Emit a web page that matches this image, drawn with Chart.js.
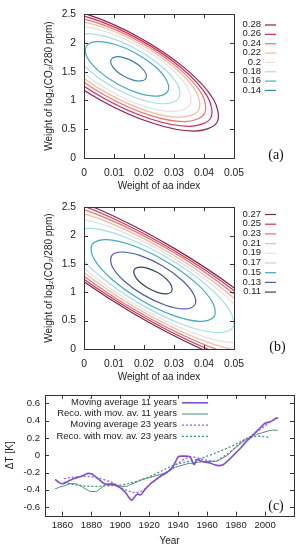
<!DOCTYPE html>
<html><head><meta charset="utf-8">
<script src="https://cdn.jsdelivr.net/npm/chart.js@4.4.1/dist/chart.umd.min.js"></script>
<style>
html,body{margin:0;padding:0;background:#fff;}
body{width:301px;height:550px;position:relative;overflow:hidden;}
canvas{position:absolute;left:0;}
</style></head><body>
<canvas id="ca" width="301" height="192" style="top:0px"></canvas>
<canvas id="cb" width="301" height="190" style="top:193px"></canvas>
<canvas id="cc" width="301" height="166" style="top:384px"></canvas>
<script>
// ---------- tick values and labels ----------
const aaTicks = [0, 0.01, 0.02, 0.03, 0.04, 0.05];
const aaTickLabels = ['0', '0.01', '0.02', '0.03', '0.04', '0.05'];
const co2Ticks = [0, 0.5, 1, 1.5, 2, 2.5];
const co2TickLabels = ['0', '0.5', '1', '1.5', '2', '2.5'];
const yearTicks = [1860, 1880, 1900, 1920, 1940, 1960, 1980, 2000];
const yearTickLabels = ['1860', '1880', '1900', '1920', '1940', '1960', '1980', '2000'];
const dTTicks = [-0.6, -0.4, -0.2, 0, 0.2, 0.4, 0.6];
const dTTickLabels = ['-0.6', '-0.4', '-0.2', '0', '0.2', '0.4', '0.6'];

// ---------- panel (a): contour levels and contour lines [aa weight, CO2 weight] ----------
const levelLabelsA = ['0.28', '0.26', '0.24', '0.22', '0.2', '0.18', '0.16', '0.14'];
const cA28 = [[0.0443,0.617],[0.0432,1.016],[0.0337,1.558],[0.0183,2.099],[0.0013,2.492],[-0.0128,2.633],[-0.0203,2.483],[-0.0192,2.084],[-0.0097,1.542],[0.0057,1.001],[0.0227,0.608],[0.0368,0.468]];
const cA26 = [[0.0422,0.692],[0.0412,1.063],[0.0325,1.565],[0.0184,2.062],[0.0028,2.423],[-0.0103,2.550],[-0.0172,2.408],[-0.0162,2.037],[-0.0075,1.536],[0.0066,1.038],[0.0222,0.677],[0.0353,0.551]];
const cA24 = [[0.0401,0.767],[0.0393,1.110],[0.0313,1.571],[0.0185,2.026],[0.0042,2.354],[-0.0078,2.466],[-0.0141,2.333],[-0.0133,1.990],[-0.0053,1.529],[0.0075,1.074],[0.0218,0.746],[0.0338,0.634]];
const cA22 = [[0.0382,0.833],[0.0374,1.150],[0.0301,1.573],[0.0184,1.990],[0.0053,2.290],[-0.0056,2.391],[-0.0115,2.267],[-0.0107,1.951],[-0.0035,1.527],[0.0083,1.110],[0.0213,0.811],[0.0323,0.709]];
const cA20 = [[0.0353,0.925],[0.0347,1.207],[0.0285,1.581],[0.0183,1.947],[0.0068,2.206],[-0.0028,2.290],[-0.0080,2.175],[-0.0074,1.893],[-0.0011,1.519],[0.0091,1.153],[0.0205,0.894],[0.0301,0.810]];
const cA18 = [[0.0316,1.042],[0.0312,1.276],[0.0261,1.583],[0.0178,1.882],[0.0085,2.092],[0.0007,2.156],[-0.0036,2.058],[-0.0032,1.824],[0.0019,1.517],[0.0102,1.218],[0.0195,1.008],[0.0273,0.944]];
const cA16 = [[0.0279,1.158],[0.0276,1.344],[0.0238,1.585],[0.0174,1.817],[0.0102,1.977],[0.0041,2.023],[0.0008,1.942],[0.0010,1.756],[0.0049,1.515],[0.0113,1.283],[0.0184,1.123],[0.0245,1.077]];
const cA14 = [[0.0206,1.383],[0.0206,1.471],[0.0190,1.579],[0.0163,1.680],[0.0132,1.746],[0.0106,1.759],[0.0091,1.717],[0.0091,1.629],[0.0106,1.521],[0.0133,1.420],[0.0164,1.354],[0.0191,1.341]];

// ---------- panel (b) ----------
const levelLabelsB = ['0.27', '0.25', '0.23', '0.21', '0.19', '0.17', '0.15', '0.13', '0.11'];
const cB27 = [[0.0730,-0.355],[0.0699,0.137],[0.0541,0.916],[0.0301,1.774],[0.0041,2.480],[-0.0168,2.845],[-0.0270,2.772],[-0.0239,2.280],[-0.0081,1.500],[0.0159,0.643],[0.0419,-0.063],[0.0628,-0.428]];
const cB25 = [[0.0691,-0.232],[0.0663,0.230],[0.0519,0.954],[0.0297,1.745],[0.0058,2.393],[-0.0135,2.724],[-0.0231,2.648],[-0.0203,2.187],[-0.0059,1.463],[0.0163,0.671],[0.0402,0.023],[0.0595,-0.307]];
const cB23 = [[0.0648,-0.099],[0.0624,0.331],[0.0494,0.995],[0.0294,1.717],[0.0076,2.303],[-0.0101,2.595],[-0.0188,2.516],[-0.0164,2.086],[-0.0034,1.421],[0.0166,0.699],[0.0384,0.114],[0.0561,-0.178]];
const cB21 = [[0.0603,0.042],[0.0583,0.435],[0.0468,1.035],[0.0289,1.682],[0.0095,2.201],[-0.0064,2.455],[-0.0143,2.374],[-0.0123,1.981],[-0.0008,1.381],[0.0171,0.735],[0.0365,0.215],[0.0524,-0.038]];
const cB19 = [[0.0552,0.201],[0.0537,0.555],[0.0439,1.084],[0.0285,1.646],[0.0116,2.091],[-0.0022,2.299],[-0.0092,2.215],[-0.0077,1.861],[0.0022,1.332],[0.0175,0.770],[0.0344,0.325],[0.0482,0.117]];
const cB17 = [[0.0496,0.378],[0.0485,0.687],[0.0406,1.136],[0.0280,1.604],[0.0140,1.966],[0.0025,2.125],[-0.0036,2.039],[-0.0025,1.729],[0.0054,1.281],[0.0181,0.813],[0.0320,0.450],[0.0435,0.291]];
const cB15 = [[0.0434,0.572],[0.0428,0.827],[0.0369,1.184],[0.0272,1.548],[0.0165,1.820],[0.0075,1.929],[0.0027,1.844],[0.0033,1.590],[0.0092,1.233],[0.0188,0.869],[0.0295,0.597],[0.0385,0.488]];
const cB13 = [[0.0369,0.776],[0.0366,0.961],[0.0327,1.212],[0.0262,1.463],[0.0188,1.645],[0.0126,1.710],[0.0092,1.641],[0.0094,1.456],[0.0133,1.204],[0.0198,0.954],[0.0272,0.772],[0.0334,0.706]];
const cB11 = [[0.0292,1.014],[0.0292,1.107],[0.0276,1.227],[0.0247,1.343],[0.0213,1.422],[0.0185,1.444],[0.0168,1.403],[0.0168,1.310],[0.0184,1.189],[0.0213,1.074],[0.0247,0.995],[0.0276,0.973]];

// ---------- panel (c): temperature series ----------
const ma11Years = [1855,1858,1860,1864,1868,1872,1875,1878,1880,1883,1886,1889,1892,1895,1898,1901,1904,1906,1908,1910,1912,1914,1916,1918,1921,1924,1927,1930,1933,1936,1938,1940,1942,1945,1948,1950,1951,1953,1956,1959,1962,1965,1968,1971,1974,1977,1980,1983,1986,1989,1992,1995,1998,2000,2002,2004,2006,2008,2009];
const ma11Values = [-0.28,-0.32,-0.33,-0.30,-0.27,-0.25,-0.23,-0.21,-0.215,-0.25,-0.29,-0.33,-0.34,-0.34,-0.36,-0.39,-0.44,-0.49,-0.52,-0.48,-0.45,-0.46,-0.42,-0.38,-0.33,-0.29,-0.25,-0.22,-0.19,-0.14,-0.08,-0.02,-0.01,-0.01,-0.015,-0.08,-0.11,-0.05,-0.07,-0.08,-0.09,-0.11,-0.12,-0.11,-0.07,-0.02,0.03,0.08,0.14,0.19,0.24,0.29,0.34,0.37,0.38,0.39,0.41,0.43,0.43];
const reco11Years = [1855,1858,1862,1866,1869,1872,1876,1880,1883,1886,1889,1892,1895,1898,1901,1904,1907,1910,1914,1918,1922,1926,1930,1934,1938,1942,1946,1950,1954,1958,1962,1966,1970,1974,1978,1982,1986,1990,1994,1998,2002,2005,2008,2009];
const reco11Values = [-0.39,-0.37,-0.35,-0.33,-0.33,-0.35,-0.39,-0.42,-0.42,-0.39,-0.35,-0.33,-0.33,-0.35,-0.36,-0.36,-0.34,-0.32,-0.29,-0.27,-0.25,-0.23,-0.21,-0.18,-0.14,-0.12,-0.10,-0.09,-0.08,-0.075,-0.07,-0.07,-0.04,0.0,0.06,0.12,0.17,0.21,0.24,0.26,0.28,0.29,0.29,0.285];
const ma23Years = [1861,1865,1870,1875,1880,1885,1890,1895,1900,1905,1910,1914,1917,1920,1925,1930,1935,1940,1945,1950,1955,1960,1965,1970,1975,1980,1985,1990,1995,2000,2003];
const ma23Values = [-0.27,-0.26,-0.25,-0.245,-0.25,-0.265,-0.29,-0.32,-0.37,-0.41,-0.43,-0.42,-0.39,-0.34,-0.28,-0.22,-0.16,-0.09,-0.04,-0.02,-0.04,-0.06,-0.07,-0.03,0.03,0.10,0.17,0.22,0.28,0.34,0.38];
const reco23Years = [1861,1865,1870,1875,1880,1885,1890,1895,1900,1905,1910,1915,1920,1925,1930,1935,1940,1945,1950,1955,1960,1965,1970,1975,1980,1985,1990,1995,2000,2003];
const reco23Values = [-0.31,-0.33,-0.345,-0.355,-0.36,-0.36,-0.355,-0.35,-0.345,-0.33,-0.31,-0.28,-0.25,-0.21,-0.17,-0.13,-0.10,-0.08,-0.06,-0.04,-0.01,0.02,0.055,0.09,0.13,0.175,0.205,0.22,0.215,0.205];
const seriesLabels = ['Moving average 11 years', 'Reco. with mov. av. 11 years', 'Moving average 23 years', 'Reco. with mov. av. 23 years'];

// ---------- styles ----------
const colorsA = ['#8b2252', '#d02a5a', '#ec7670', '#f8b99c', '#e2e2e2', '#a8dde8', '#44aac0', '#3f7fa6'];
const colorsB = ['#7e2748', '#c8365c', '#e8706e', '#f7b5a0', '#e4e0e0', '#a8dde6', '#3faabd', '#4e5ea8', '#3a4658'];
const FONT = "'Liberation Sans', Arial, Helvetica, sans-serif";
Chart.defaults.font.family = FONT;
Chart.defaults.color = '#222';

const framePlugin = {
  id: 'frame',
  afterDatasetsDraw(chart) {
    const {ctx, chartArea: {left, right, top, bottom}, scales: {x, y}} = chart;
    ctx.save();
    ctx.strokeStyle = '#333';
    ctx.lineWidth = 1;
    ctx.setLineDash([]);
    ctx.beginPath();
    x.ticks.forEach(t => {
      const px = Math.round(x.getPixelForValue(t.value)) + 0.5;
      ctx.moveTo(px, bottom); ctx.lineTo(px, bottom - 4);
      ctx.moveTo(px, top); ctx.lineTo(px, top + 4);
    });
    y.ticks.forEach(t => {
      const py = Math.round(y.getPixelForValue(t.value)) + 0.5;
      ctx.moveTo(left, py); ctx.lineTo(left + 4, py);
      ctx.moveTo(right, py); ctx.lineTo(right - 4, py);
    });
    ctx.stroke();
    ctx.strokeRect(Math.round(left) + 0.5, Math.round(top) + 0.5, Math.round(right - left), Math.round(bottom - top));
    ctx.restore();
  }
};

const keyPlugin = {
  id: 'keys',
  afterDraw(chart, args, o) {
    const ctx = chart.ctx;
    ctx.save();
    ctx.font = o.font;
    ctx.fillStyle = '#222';
    ctx.textAlign = 'right';
    ctx.textBaseline = 'middle';
    chart.data.datasets.forEach((ds, i) => {
      const yy = o.top + i * o.step;
      ctx.fillText(ds.label, o.textRight, yy);
      ctx.strokeStyle = ds.borderColor;
      ctx.lineWidth = ds.borderWidth;
      ctx.setLineDash(ds.borderDash || []);
      ctx.beginPath();
      ctx.moveTo(o.x0, yy + 0.5); ctx.lineTo(o.x1, yy + 0.5);
      ctx.stroke();
    });
    ctx.setLineDash([]);
    ctx.font = o.panelFont;
    ctx.textAlign = 'center';
    ctx.fillStyle = '#111';
    ctx.fillText(o.panel, o.panelX, o.panelY);
    ctx.restore();
  }
};

function fixedTicks(values) {
  return s => { s.ticks = values.map(v => ({value: v})); };
}

function contourChart(id, contours, labels, colors, key) {
  const datasets = contours.map((pts, i) => {
    const n = pts.length;
    const seq = [pts[n - 1], ...pts, pts[0], pts[1]].map(p => ({x: p[0], y: p[1]}));
    return {
      label: labels[i], data: seq, showLine: true, borderColor: colors[i], borderWidth: 1.2,
      pointRadius: 0, tension: 0.35, fill: false,
      segment: {borderColor: c => (c.p0DataIndex === 0 || c.p1DataIndex === n + 2) ? 'rgba(0,0,0,0)' : undefined}
    };
  });
  return new Chart(document.getElementById(id), {
    type: 'scatter',
    data: {datasets},
    options: {
      responsive: false, animation: false, events: [],
      layout: {padding: {left: 0, top: 8.5, right: 67, bottom: 0}},
      elements: {line: {capBezierPoints: false}},
      plugins: {legend: {display: false}, tooltip: {enabled: false}, keys: key},
      scales: {
        x: {
          type: 'linear', min: 0, max: 0.05,
          afterBuildTicks: fixedTicks(aaTicks),
          afterFit: s => { s.height = 34; },
          grid: {display: false, drawTicks: false}, border: {display: false},
          ticks: {callback: (v, i) => aaTickLabels[i], padding: 9, font: {size: 10.3}, maxRotation: 0, autoSkip: false},
          title: {display: true, text: 'Weight of aa index', font: {size: 10}, padding: {top: 0, bottom: 0}}
        },
        y: {
          type: 'linear', min: 0, max: 2.5,
          afterBuildTicks: fixedTicks(co2Ticks),
          afterFit: s => { s.width = 84; },
          grid: {display: false, drawTicks: false}, border: {display: false},
          ticks: {callback: (v, i) => co2TickLabels[i], padding: 8, font: {size: 10.3}, autoSkip: false},
          title: {display: true, text: 'Weight of log\u2082(CO\u2082/280 ppm)', font: {size: 10}, padding: {top: 43, bottom: 0}}
        }
      }
    },
    plugins: [framePlugin, keyPlugin]
  });
}

contourChart('ca', [cA28, cA26, cA24, cA22, cA20, cA18, cA16, cA14], levelLabelsA, colorsA,
  {font: '9.5px ' + FONT, top: 24.5, step: 9.35, textRight: 261, x0: 265, x1: 276,
   panel: '(a)', panelFont: '14px "Liberation Serif", "Times New Roman", serif', panelX: 276, panelY: 155});
contourChart('cb', [cB27, cB25, cB23, cB21, cB19, cB17, cB15, cB13, cB11], levelLabelsB, colorsB,
  {font: '9.5px ' + FONT, top: 21, step: 9.7, textRight: 261, x0: 265, x1: 276,
   panel: '(b)', panelFont: '14px "Liberation Serif", "Times New Roman", serif', panelX: 277.5, panelY: 154});

// ---------- panel (c) ----------
function pairs(xs, ys) { return xs.map((x, i) => ({x, y: ys[i]})); }
new Chart(document.getElementById('cc'), {
  type: 'scatter',
  data: {datasets: [
    {label: seriesLabels[0], data: pairs(ma11Years, ma11Values), borderColor: '#7f4fd0', borderWidth: 1.6},
    {label: seriesLabels[1], data: pairs(reco11Years, reco11Values), borderColor: '#4f8a7c', borderWidth: 1},
    {label: seriesLabels[2], data: pairs(ma23Years, ma23Values), borderColor: '#9460e0', borderWidth: 1.3, borderDash: [2, 2]},
    {label: seriesLabels[3], data: pairs(reco23Years, reco23Values), borderColor: '#3d9a6c', borderWidth: 1.3, borderDash: [2, 2]}
  ].map(d => Object.assign(d, {showLine: true, pointRadius: 0, fill: false, cubicInterpolationMode: 'monotone'}))},
  options: {
    responsive: false, animation: false, events: [],
    layout: {padding: {left: 0, top: 7, right: 7, bottom: 0}},
    plugins: {legend: {display: false}, tooltip: {enabled: false},
      keys: {font: '9.5px ' + FONT, top: 18.3, step: 11.2, textRight: 177, x0: 182, x1: 208,
             panel: '(c)', panelFont: '14px "Liberation Serif", "Times New Roman", serif', panelX: 276, panelY: 122}},
    scales: {
      x: {
        type: 'linear', min: 1848, max: 2020,
        afterBuildTicks: fixedTicks(yearTicks),
        afterFit: s => { s.height = 34.3; },
        grid: {display: false, drawTicks: false}, border: {display: false},
        ticks: {callback: (v, i) => yearTickLabels[i], padding: 4, font: {size: 9.6}, maxRotation: 0, autoSkip: false},
        title: {display: true, text: 'Year', font: {size: 10}, padding: {top: 0, bottom: 2.3}}
      },
      y: {
        type: 'linear', min: -0.7, max: 0.7,
        afterBuildTicks: fixedTicks(dTTicks),
        afterFit: s => { s.width = 45; },
        grid: {display: false, drawTicks: false}, border: {display: false},
        ticks: {callback: (v, i) => dTTickLabels[i], padding: 5, font: {size: 9.6}, autoSkip: false},
        title: {display: true, text: '\u0394T [K]', font: {size: 10}, padding: {top: 4, bottom: 0}}
      }
    }
  },
  plugins: [framePlugin, keyPlugin]
});
</script></body></html>
